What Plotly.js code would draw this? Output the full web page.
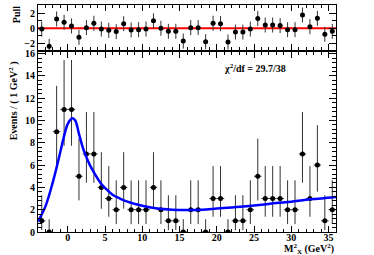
<!DOCTYPE html>
<html>
<head>
<meta charset="utf-8">
<script src="https://cdn.plot.ly/plotly-3.0.1.min.js"></script>
<style>html,body{margin:0;padding:0;background:#fff;}#chart{width:374px;height:255px;}</style>
</head>
<body>
<div id="chart"></div>
<script>
// Bin centers (M_X^2, GeV^2), bin width 1
const binCenters = [-3.5,-2.5,-1.5,-0.5,0.5,1.5,2.5,3.5,4.5,5.5,6.5,7.5,8.5,9.5,10.5,11.5,12.5,13.5,14.5,15.5,16.5,17.5,18.5,19.5,20.5,21.5,22.5,23.5,24.5,25.5,26.5,27.5,28.5,29.5,30.5,31.5,32.5,33.5,34.5,35.5];
// Events per bin
const counts = [1,0,9,11,11,5,7,7,4,3,2,4,2,2,2,4,2,1,1,0,2,2,0,3,3,0,1,1,2,5,3,3,3,2,2,7,3,6,1,2];
// Poisson (68%) interval half-widths per count
const errLowByN  = {0:0, 1:0.827, 2:1.292, 3:1.633, 4:1.914, 5:2.159, 6:2.379, 7:2.58, 9:2.944, 11:3.265};
const errHighByN = {0:1.148, 1:2.299, 2:2.637, 3:2.918, 4:3.162, 5:3.382, 6:3.583, 7:3.77, 9:4.113, 11:4.427};
// Pull per bin
const pulls = [-0.1,-2.4,1.24,0.8,0.31,-1.2,0.09,0.67,-0.09,-0.27,-0.44,0.62,-0.22,-0.18,-0.09,1.0,0,-0.4,-0.4,-1.7,0.09,0.09,-1.78,0.67,0.62,-1.82,-0.5,-0.5,-0.09,1.29,0.44,0.44,0.36,-0.18,-0.18,1.78,0.22,1.33,-0.8,-0.4];
// Fit curve samples
const fitX = [-4,-3,-2,-1.5,-1,-0.5,0,0.6,1,1.5,2,2.5,3,3.5,4,4.5,5,6,7,8,9,10,12,14,16,18,20,22,24,26,28,30,32,34,36];
const fitY = [0.95,2.3,4.5,5.8,7.2,8.6,9.7,10.2,10.0,8.8,7.6,6.7,5.95,5.35,4.8,4.3,3.95,3.35,3.0,2.72,2.52,2.35,2.1,2.0,1.98,2.0,2.1,2.2,2.32,2.45,2.6,2.72,2.9,3.0,3.13];
const zeroX = [-4,36];
const zeroY = [0,0];
const chiText = "χ<sup>2</sup>/df = 29.7/38";

const errLow = counts.map(n => errLowByN[n]);
const errHigh = counts.map(n => errHighByN[n]);

const F = {family:"Liberation Serif, Times New Roman, serif", size:10, color:"#000", weight:"bold"};

const traces = [
  {x:binCenters, y:counts, type:"scatter", mode:"markers", xaxis:"x", yaxis:"y",
   marker:{color:"#000", size:5},
   error_y:{type:"data", symmetric:false, array:errHigh, arrayminus:errLow, color:"#333", thickness:1, width:0},
   error_x:{type:"constant", value:0.5, color:"#333", thickness:1, width:0}},
  {x:fitX, y:fitY, type:"scatter", mode:"lines", xaxis:"x", yaxis:"y",
   line:{color:"#0000ff", width:2.5, shape:"spline"}},
  {x:zeroX, y:zeroY, type:"scatter", mode:"lines", xaxis:"x2", yaxis:"y2",
   line:{color:"#ff0000", width:2}},
  {x:binCenters, y:pulls, type:"scatter", mode:"markers", xaxis:"x2", yaxis:"y2",
   marker:{color:"#000", size:5},
   error_y:{type:"constant", value:1, color:"#333", thickness:1, width:0}}
];

const axCommon = {showline:true, linecolor:"#000", linewidth:1, mirror:"ticks", ticks:"inside",
  tickcolor:"#000", showgrid:false, zeroline:false, tickfont:F};

const layout = {
  width:374, height:255, margin:{l:38, r:38, t:5, b:23},
  paper_bgcolor:"#fff", plot_bgcolor:"#fff", showlegend:false,
  xaxis:Object.assign({}, axCommon, {domain:[0,1], anchor:"y", range:[-4,36], tick0:0, dtick:5, ticklen:6,
    ticklabelstandoff:-4,
    minor:{dtick:1, ticklen:3, ticks:"inside", tickcolor:"#000"}}),
  yaxis:Object.assign({}, axCommon, {domain:[0,0.795], anchor:"x", range:[0,16.19], dtick:2, ticklen:7,
    minor:{dtick:0.4, ticklen:4, ticks:"inside", tickcolor:"#000"}}),
  xaxis2:Object.assign({}, axCommon, {domain:[0,1], anchor:"y2", range:[-4,36], tick0:0, dtick:5, ticklen:6,
    showticklabels:false, minor:{dtick:1, ticklen:3, ticks:"inside", tickcolor:"#000"}}),
  yaxis2:Object.assign({}, axCommon, {domain:[0.7996,1], anchor:"x2", range:[-2.95,3.1], tickvals:[-2,0,2], ticklen:7,
    minor:{dtick:1, ticklen:4, ticks:"inside", tickcolor:"#000"}}),
  annotations:[
    {text:chiText, xref:"x", yref:"y", x:25.1, y:14.7, showarrow:false, font:F, xanchor:"center", yanchor:"middle"},
    {text:"Events / ( 1 GeV<sup>2</sup> )", xref:"paper", yref:"paper", x:-0.084, y:0.58, textangle:-90,
     showarrow:false, font:F, xanchor:"center", yanchor:"middle"},
    {text:"Pull", xref:"paper", yref:"paper", x:-0.07, y:0.956, textangle:-90,
     showarrow:false, font:F, xanchor:"center", yanchor:"middle"},
    {text:"M<sup>2</sup><sub>X</sub> (GeV<sup>2</sup>)", xref:"paper", yref:"paper", x:1, y:-0.074,
     showarrow:false, font:F, xanchor:"right", yanchor:"middle"}
  ]
};

Plotly.newPlot("chart", traces, layout, {staticPlot:true, displayModeBar:false});
</script>
</body>
</html>
